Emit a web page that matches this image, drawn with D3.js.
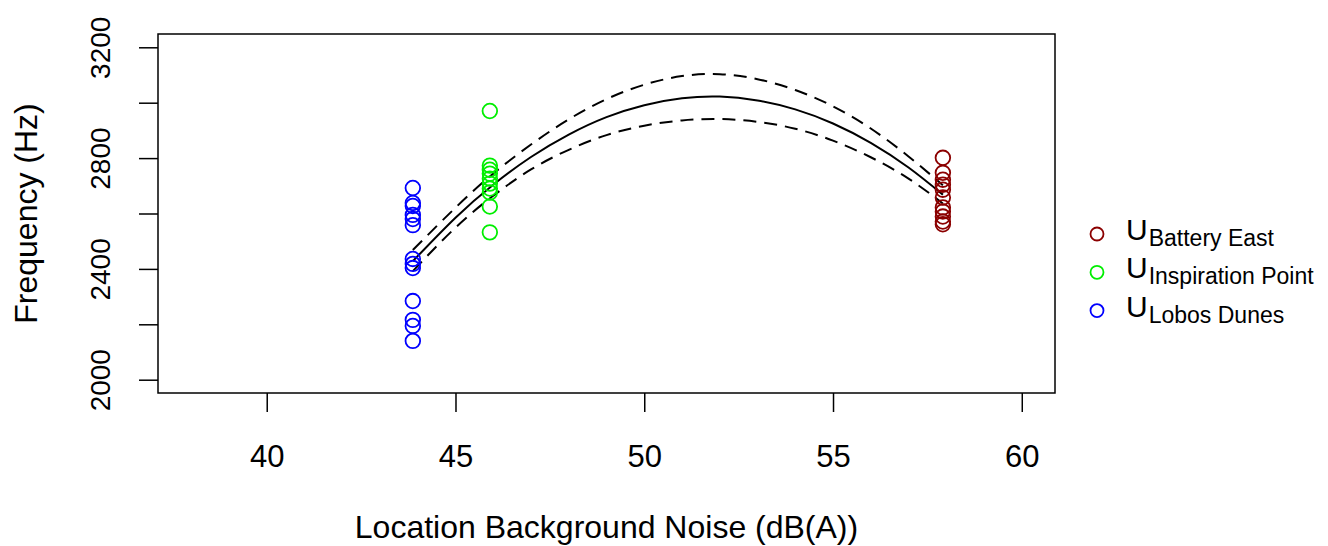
<!DOCTYPE html>
<html>
<head>
<meta charset="utf-8">
<script src="https://cdn.jsdelivr.net/npm/d3@7"></script>
<style>
  body { margin: 0; background: #fff; }
  svg { display: block; font-family: 'Liberation Sans', Arial, Helvetica, sans-serif; }
</style>
</head>
<body>
<svg id="chart_svg" width="1328" height="546"></svg>
<script>
// site categories and their background noise (dB(A))
const site_names = ['Battery East', 'Inspiration Point', 'Lobos Dunes'];
const site_noise = [57.91, 45.91, 43.87];

// measured frequencies (Hz) per site
const battery_east_freq = [2801, 2747, 2722, 2704, 2686, 2658, 2622, 2607, 2589, 2571, 2561];
const inspiration_point_freq = [2970, 2773, 2758, 2744, 2726, 2708, 2690, 2676, 2625, 2532];
const lobos_dunes_freq = [2692, 2638, 2627, 2595, 2580, 2558, 2436, 2418, 2403, 2284, 2216, 2194, 2140];

// fitted curve and its band
const fit_noise = [43.87, 45, 46, 47, 48, 49, 50, 51, 52, 53, 54, 55, 56, 57, 57.91];
const fit_freq = [2428, 2585, 2704, 2804, 2885, 2948, 2991, 3016, 3022, 3008, 2976, 2925, 2855, 2766, 2668];
const fit_upper = [2468, 2621, 2744, 2849, 2940, 3013, 3065, 3096, 3103, 3085, 3046, 2987, 2907, 2806, 2702];
const fit_lower = [2392, 2549, 2664, 2759, 2830, 2883, 2917, 2936, 2941, 2931, 2906, 2863, 2803, 2726, 2636];

// axis ticks
const x_ticks = [40, 45, 50, 55, 60];
const y_ticks = [2000, 2200, 2400, 2600, 2800, 3000, 3200];
const y_tick_labels = ['2000', '', '2400', '', '2800', '', '3200'];

const site_colors = ['#8b0000', '#00ee00', '#0000ff'];

const margin = { top: 34, bottom: 153, left: 158, right: 273 };
const width = 1328;
const height = 546;

let svg = d3.select('#chart_svg');

const xScale = d3.scaleLinear()
  .domain([37.12, 60.88])
  .range([margin.left, width - margin.right]);

const yScale = d3.scaleLinear()
  .domain([1952, 3248])
  .range([height - margin.bottom, margin.top]);

/**
 * Fitted curve (solid) and band (dashed)
 */
let make_line = (vals) => d3.line()
  .x((d, i) => xScale(fit_noise[i]))
  .y((d) => yScale(d))
  .curve(d3.curveNatural)(vals);

svg.append('path')
  .attr('d', make_line(fit_freq))
  .attr('fill', 'none')
  .attr('stroke', '#000')
  .attr('stroke-width', 2);

[fit_upper, fit_lower].forEach((band) => {
  svg.append('path')
    .attr('d', make_line(band))
    .attr('fill', 'none')
    .attr('stroke', '#000')
    .attr('stroke-width', 2)
    .attr('stroke-dasharray', '13,8');
});

/**
 * Points
 */
let all_freqs = [battery_east_freq, inspiration_point_freq, lobos_dunes_freq];
let points = [];
all_freqs.forEach((arr, s) => {
  arr.forEach((f) => points.push({ site: s, x: site_noise[s], y: f }));
});

svg.selectAll('.pt')
  .data(points)
  .enter()
  .append('circle')
  .attr('class', 'pt')
  .attr('cx', (d) => xScale(d.x))
  .attr('cy', (d) => yScale(d.y))
  .attr('r', 7.3)
  .attr('fill', 'none')
  .attr('stroke', (d) => site_colors[d.site])
  .attr('stroke-width', 1.8);

/**
 * Box
 */
svg.append('rect')
  .attr('x', margin.left)
  .attr('y', margin.top)
  .attr('width', width - margin.left - margin.right)
  .attr('height', height - margin.top - margin.bottom)
  .attr('fill', 'none')
  .attr('stroke', '#000')
  .attr('stroke-width', 1.5);

/**
 * Axes
 */
let x_axis = d3.axisBottom(xScale)
  .tickValues(x_ticks)
  .tickSize(19)
  .tickSizeOuter(0);

let g_x = svg.append('g')
  .attr('transform', 'translate(0,' + (height - margin.bottom) + ')')
  .call(x_axis);
g_x.select('.domain').remove();
g_x.selectAll('line').attr('stroke', '#000').attr('stroke-width', 1.5);
g_x.selectAll('text')
  .attr('y', 74)
  .attr('dy', 0)
  .attr('fill', '#000')
  .style('font-size', '31px')
  .style('font-family', "'Liberation Sans', Arial, sans-serif");

let y_axis = d3.axisLeft(yScale)
  .tickValues(y_ticks)
  .tickFormat((d, i) => y_tick_labels[i])
  .tickSize(19)
  .tickSizeOuter(0);

let g_y = svg.append('g')
  .attr('transform', 'translate(' + margin.left + ',0)')
  .call(y_axis);
g_y.select('.domain').remove();
g_y.selectAll('line').attr('stroke', '#000').attr('stroke-width', 1.5);
g_y.selectAll('text')
  .attr('x', 0)
  .attr('y', -48)
  .attr('dy', 0)
  .attr('transform', 'rotate(-90)')
  .attr('text-anchor', 'middle')
  .attr('fill', '#000')
  .style('font-size', '28px')
  .style('font-family', "'Liberation Sans', Arial, sans-serif");

/**
 * Axis titles
 */
svg.append('text')
  .attr('x', (margin.left + width - margin.right) / 2)
  .attr('y', 538)
  .attr('text-anchor', 'middle')
  .style('font-size', '32px')
  .text('Location Background Noise (dB(A))');

svg.append('text')
  .attr('x', -(margin.top + height - margin.bottom) / 2)
  .attr('y', 37)
  .attr('transform', 'rotate(-90)')
  .attr('text-anchor', 'middle')
  .style('font-size', '32px')
  .text('Frequency (Hz)');

/**
 * Legend
 */
let legend = svg.append('g').attr('transform', 'translate(1097,234)');
site_names.forEach((name, i) => {
  let row = legend.append('g').attr('transform', 'translate(0,' + i * 38.3 + ')');
  row.append('circle')
    .attr('r', 6.5)
    .attr('fill', 'none')
    .attr('stroke', site_colors[i])
    .attr('stroke-width', 1.8);
  let t = row.append('text')
    .attr('x', 29)
    .attr('y', 6);
  t.append('tspan').style('font-size', '30px').text('U');
  t.append('tspan').attr('dy', 6).attr('dx', 1).style('font-size', '23px').text(name);
});
</script>
</body>
</html>
